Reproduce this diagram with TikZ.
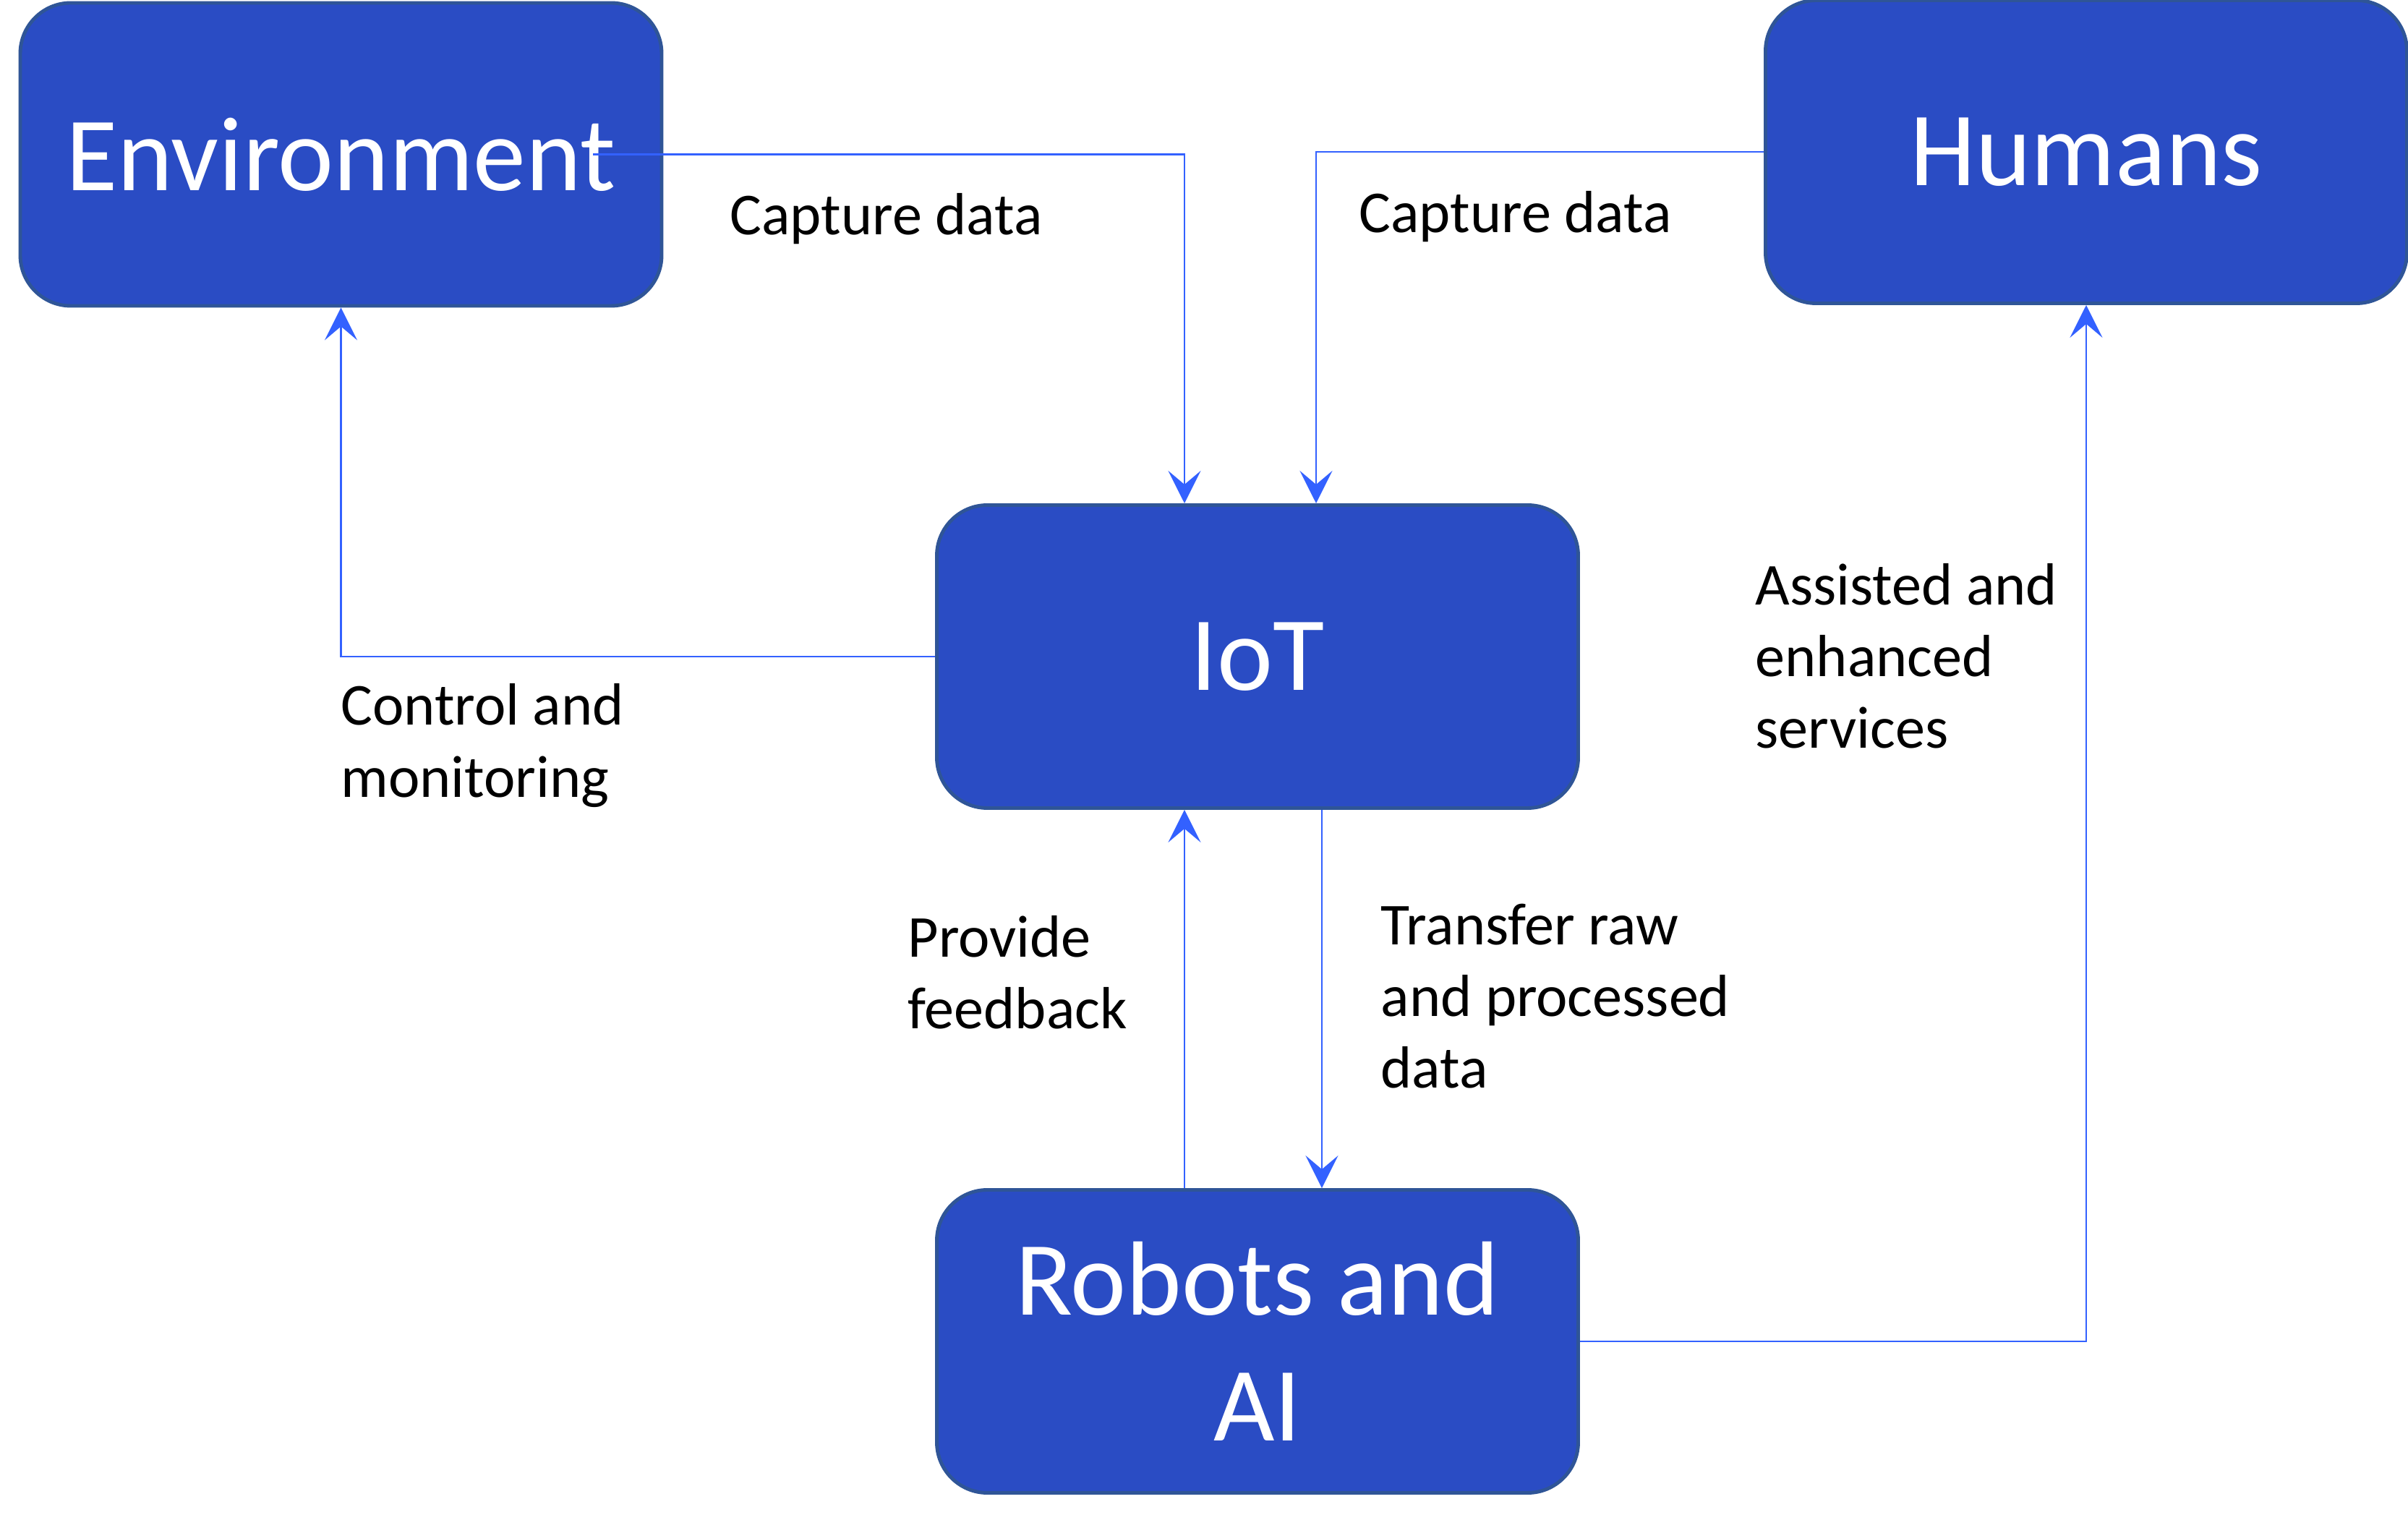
\documentclass[tikz,border=0pt]{standalone}
\usepackage{fontspec}
\setmainfont{Carlito}
\usetikzlibrary{arrows.meta}
\definecolor{boxfill}{HTML}{2A4CC4}
\definecolor{boxedge}{HTML}{2F5597}
\definecolor{conn}{HTML}{3361FF}
\begin{document}
\begin{tikzpicture}[
  box/.style={draw=boxedge, line width=1.4pt, fill=boxfill, rounded corners=0.7cm,
    minimum width=8.87cm, minimum height=4.19cm, inner sep=0pt, align=center,
    text=white, font=\fontsize{41.5pt}{49.5pt}\selectfont},
  lab/.style={anchor=west, inner sep=0pt, align=left, text=black,
    font=\fontsize{23.4pt}{28.2pt}\selectfont},
  conn/.style={draw=conn, line width=0.65pt,
    -{Stealth[length=12.8pt, width=12.8pt, inset=5.4pt]}}
]
\useasboundingbox (0,0) rectangle (33.3,-21.2);
\node[box] (env) at (4.715,-2.135) {Environment};
\node[box] (hum) at (28.85,-2.10) {Humans};
\node[box] (iot) at (17.39,-9.08) {IoT};
\node[box] (rob) at (17.39,-18.55) {Robots and\\AI};

\coordinate (envout) at ([xshift=-0.97cm]env.east);
\draw[conn] (envout) -| ([xshift=-1.01cm]iot.north);
\draw[conn] (hum.west) -| ([xshift=0.81cm]iot.north);
\draw[conn] (iot.west) -| (env.south);
\draw[conn] ([xshift=-1.01cm]rob.north) -- ([xshift=-1.01cm]iot.south);
\draw[conn] ([xshift=0.89cm]iot.south) -- ([xshift=0.89cm]rob.north);
\draw[conn] (rob.east) -| (hum.south);

\node[lab] (l1) at (10.09,-3.03) {Capture data};
\node[lab] (l2) at (18.79,-3.00) {Capture data};
\node[lab] (l3) at (4.71,-10.31) {Control and\\monitoring};
\node[lab] (l4) at (24.27,-9.07) {Assisted and\\enhanced\\services};
\node[lab] (l5) at (12.55,-13.45) {Provide\\feedback};
\node[lab] (l6) at (19.09,-13.78) {Transfer raw\\and processed\\data};
\end{tikzpicture}
\end{document}
